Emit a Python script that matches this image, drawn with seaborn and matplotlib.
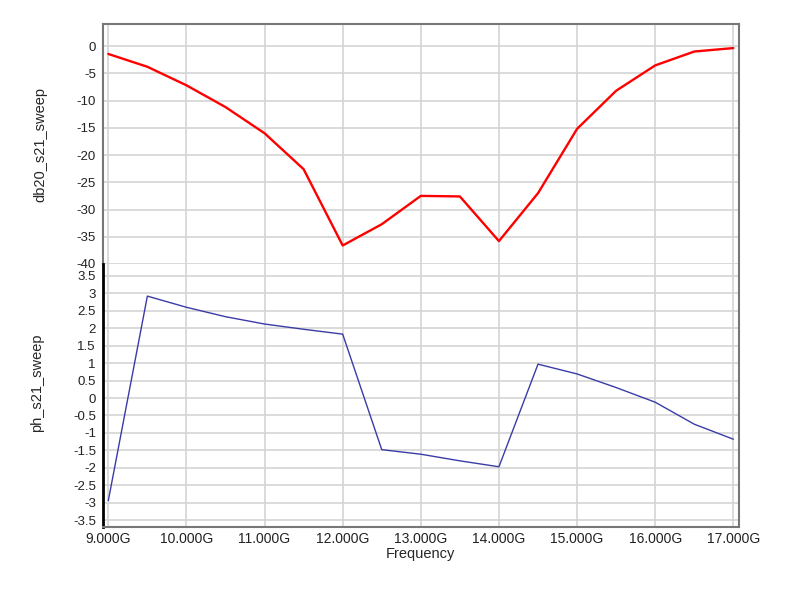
import matplotlib
matplotlib.use("Agg")
import matplotlib.pyplot as plt
from matplotlib.ticker import FuncFormatter, MultipleLocator
import numpy as np
import pandas as pd
import seaborn as sns

# sweep points (GHz)
freq = [9.0, 9.5, 10.0, 10.5, 11.0, 11.5, 12.0, 12.5, 13.0,
        13.5, 14.0, 14.5, 15.0, 15.5, 16.0, 16.5, 17.0]

db20_s21 = [-1.45, -3.8, -7.2, -11.2, -16.0, -22.6, -36.6, -32.7, -27.5,
            -27.6, -35.8, -27.0, -15.2, -8.2, -3.55, -1.0, -0.37]

ph_s21 = [-2.94, 2.92, 2.60, 2.33, 2.12, 1.97, 1.83, -1.48, -1.61,
          -1.80, -1.97, 0.97, 0.69, 0.30, -0.12, -0.75, -1.18]

df = pd.DataFrame({"Frequency": freq, "db20_s21_sweep": db20_s21,
                   "ph_s21_sweep": ph_s21})

sns.set_style("white")
plt.rcParams["font.family"] = ["Liberation Sans", "DejaVu Sans"]
plt.rcParams["axes.unicode_minus"] = False

fig = plt.figure(figsize=(7.91, 6.0), dpi=100)
ax1 = fig.add_axes([0.130, 0.560, 0.804, 0.400])
ax2 = fig.add_axes([0.130, 0.122, 0.804, 0.438], sharex=ax1)

sns.lineplot(x="Frequency", y="db20_s21_sweep", data=df, ax=ax1,
             color="#ff0000", linewidth=1.7)
sns.lineplot(x="Frequency", y="ph_s21_sweep", data=df, ax=ax2,
             color="#3b3ba8", linewidth=1.0)

grid_c = "#d4d4d4"
tick_c = "#4aa3a3"
for ax in (ax1, ax2):
    ax.grid(True, color=grid_c, linewidth=1.2)
    ax.set_axisbelow(True)
    ax.tick_params(axis="y", direction="out", length=3, width=1,
                   color=tick_c, labelsize=9.5, labelcolor="#222222", pad=2)
    ax.tick_params(axis="x", direction="in", length=4, width=1,
                   color=tick_c, labelsize=10, labelcolor="#222222")
    for s in ("top", "right", "bottom"):
        ax.spines[s].set_color("#777777")
        ax.spines[s].set_linewidth(1.5)

ax1.spines["left"].set_color("#777777")
ax1.spines["left"].set_linewidth(1.5)
ax2.spines["left"].set_color("#000000")
ax2.spines["left"].set_linewidth(2)
ax1.spines["bottom"].set_visible(False)
ax2.spines["top"].set_visible(False)

ax1.set_xlim(8.93, 17.07)
ax1.xaxis.set_major_locator(MultipleLocator(1))
ax2.xaxis.set_major_formatter(FuncFormatter(lambda x, _: f"{x:.3f}G"))
ax1.tick_params(axis="x", labelbottom=False, length=0)

ax1.set_ylim(-40, 4.05)
ax1.set_yticks(np.arange(-40, 1, 5))
ax1.yaxis.set_major_formatter(FuncFormatter(lambda y, _: f"{y:g}"))
ax2.set_ylim(-3.69, 3.84)
ax2.set_yticks(np.arange(-3.5, 3.51, 0.5))
ax2.yaxis.set_major_formatter(FuncFormatter(lambda y, _: f"{y:g}"))

ax1.set_xlabel("")
ax1.set_ylabel("db20_s21_sweep", fontsize=10.5)
ax2.set_ylabel("ph_s21_sweep", fontsize=10.5)
ax1.yaxis.set_label_coords(-0.087, 0.5)
ax2.yaxis.set_label_coords(-0.092, 0.55)
ax2.set_xlabel("Frequency", fontsize=10.5, labelpad=1)

fig.savefig("out.png", dpi=100, facecolor="white")
